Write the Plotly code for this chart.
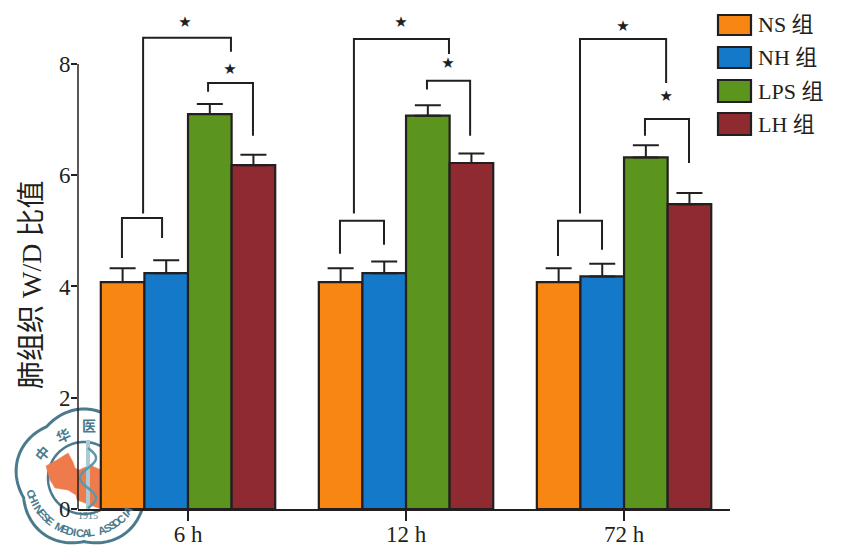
import numpy as np
import plotly.graph_objects as go

W, H = 841, 559
ML, MR, MT, MB = 78, 111, 0, 50
INK = "#231f20"
SERIF = "Liberation Serif, Noto Sans CJK SC, serif"

times = ["6 h", "12 h", "72 h"]
groups = ["NS组", "NH组", "LPS组", "LH组"]
legend_labels = ["NS 组", "NH 组", "LPS 组", "LH 组"]
colors = ["#f78613", "#1479c9", "#5b951e", "#8e2a30"]

ns_values = [4.08, 4.08, 4.08]
nh_values = [4.24, 4.24, 4.18]
lps_values = [7.10, 7.07, 6.32]
lh_values = [6.18, 6.22, 5.48]

ns_err = [0.25, 0.25, 0.25]
nh_err = [0.23, 0.21, 0.23]
lps_err = [0.18, 0.19, 0.22]
lh_err = [0.19, 0.17, 0.20]

y_ticks = [0, 2, 4, 6, 8]
y_top = 9.15

# significance brackets: left x, right x, left foot, top, right foot (x offset from group, y in axis units)
brackets_6h = [(-0.206, 0.197, 5.31, 8.47, 8.22), (-0.303, -0.119, 4.51, 5.23, 4.87), (0.092, 0.298, 7.50, 7.66, 6.71)]
brackets_12h = [(-0.239, 0.197, 5.31, 8.45, 8.18), (-0.303, -0.101, 4.59, 5.18, 4.75), (0.096, 0.294, 7.54, 7.70, 6.71)]
brackets_72h = [(-0.202, 0.193, 5.31, 8.45, 7.66), (-0.303, -0.101, 4.55, 5.18, 4.66), (0.096, 0.298, 6.71, 7.01, 6.22)]
star_x = [-0.014, 0.193, -0.023, 0.193, -0.005, 0.193]
star_group = [0, 0, 1, 1, 2, 2]
star_y = [8.73, 7.88, 8.73, 7.99, 8.66, 7.41]

x_pos = list(range(len(times)))
values = [ns_values, nh_values, lps_values, lh_values]
errors = [ns_err, nh_err, lps_err, lh_err]

fig = go.Figure()
for name, v, e, c in zip(groups, values, errors, colors):
    fig.add_trace(go.Bar(
        x=x_pos, y=v, name=name, showlegend=False,
        marker=dict(color=c, line=dict(color=INK, width=2.2)),
        error_y=dict(type="data", array=e, arrayminus=[0] * len(e), symmetric=False,
                     color=INK, thickness=2, width=13),
    ))

for g, bracket_set in enumerate([brackets_6h, brackets_12h, brackets_72h]):
    for lx, rx, lf, top, rf in bracket_set:
        fig.add_trace(go.Scatter(
            x=[g + lx, g + lx, g + rx, g + rx], y=[lf, top, top, rf], mode="lines",
            line=dict(color=INK, width=2), showlegend=False, hoverinfo="skip",
        ))

fig.add_trace(go.Scatter(
    x=[g + s for g, s in zip(star_group, star_x)], y=star_y, mode="text", text=["★"] * len(star_x),
    textfont=dict(family="DejaVu Sans", size=15, color=INK),
    showlegend=False, hoverinfo="skip",
))

PW = W - ML - MR
PH = H - MT - MB
def px(x):
    return (x - ML) / PW
def py(y):
    return (H - MB - y) / PH

shapes = []
annotations = []

def note(text, x, y, size, family=SERIF, color=INK, angle=0, xanchor="center"):
    annotations.append(dict(text=text, x=px(x), y=py(y), xref="paper", yref="paper", showarrow=False,
                            xanchor=xanchor, yanchor="middle", textangle=angle,
                            font=dict(family=family, size=size, color=color)))

# emblem (drawn under the bars)
LOGO = "#4a7a8c"
cx, cy, R = 84, 478, 69
def closed_path(pts):
    return "M" + "L".join(f"{px(a):.4f},{py(b):.4f}" for a, b in pts) + "Z"
def open_path(pts):
    return "M" + "L".join(f"{px(a):.4f},{py(b):.4f}" for a, b in pts)
th = np.linspace(0, 2 * np.pi, 181)
def blossom(rad, depth):
    r = rad * (1 - depth + depth * np.abs(np.cos(2.5 * th)))
    return list(zip(cx + r * np.sin(th), cy - r * np.cos(th)))
shapes.append(dict(type="path", xref="paper", yref="paper", layer="below", path=closed_path(blossom(R, 0.08)),
                   line=dict(color=LOGO, width=3), fillcolor="white"))
ring = list(zip(cx + 36 * np.sin(th), cy - 36 * np.cos(th)))
shapes.append(dict(type="path", xref="paper", yref="paper", layer="below", path=closed_path(ring),
                   line=dict(color=LOGO, width=2.5), fillcolor="white"))
china = [(46, 466), (57, 460), (68, 453), (73, 462), (75, 468), (79, 470), (90, 465), (101, 470),
         (101, 509), (77, 500), (76, 495), (68, 490), (55, 488), (50, 480)]
shapes.append(dict(type="path", xref="paper", yref="paper", layer="below", path=closed_path(china),
                   line=dict(color="#ef7b4d", width=0.5), fillcolor="#ef7b4d"))
shapes.append(dict(type="line", xref="paper", yref="paper", layer="below",
                   x0=px(88), x1=px(88), y0=py(440), y1=py(510), line=dict(color="#a9cbd6", width=4)))
snake_y = np.linspace(448, 508, 61)
snake_x = 88 + 8 * np.sin((snake_y - 448) / 60 * 3 * np.pi)
shapes.append(dict(type="path", xref="paper", yref="paper", layer="below",
                   path=open_path(list(zip(snake_x, snake_y))), line=dict(color="#5f97a8", width=2.5)))

for ch, (ax, ay, ang) in zip("中华医", [(42, 453, -50), (63, 435, -25), (89, 425, 0)]):
    note(f"<b>{ch}</b>", ax, ay, 14, family="Noto Sans CJK SC", color=LOGO, angle=ang)
arc_text = "CHINESE MEDICAL ASSOCIA"
for i, ch in enumerate(arc_text):
    if ch == " ":
        continue
    phi = -73 + i * 127 / (len(arc_text) - 1)
    rad = np.radians(phi)
    note(f"<b>{ch}</b>", cx + 55 * np.sin(rad), cy + 55 * np.cos(rad), 11,
         family="Liberation Sans", color=LOGO, angle=-phi)
note("1915", 88, 515, 10, family="Liberation Serif", color=LOGO)

# y axis line stops at the top tick
shapes.append(dict(type="line", xref="paper", yref="y", x0=0, x1=0, y0=y_ticks[0], y1=y_ticks[-1],
                   line=dict(color=INK, width=1.5)))

# y axis title
note("肺组织 W/D 比值", 31, 285, 28, angle=-90)

# key
swatch_tops = [15, 47, 80, 113]
swatch_bottoms = [35, 68, 102, 135]
for lab, c, t, b in zip(legend_labels, colors, swatch_tops, swatch_bottoms):
    shapes.append(dict(type="rect", xref="paper", yref="paper", x0=px(718), x1=px(751), y0=py(b), y1=py(t),
                       fillcolor=c, line=dict(color=INK, width=2.2)))
    note(lab, 756, (t + b) / 2, 22, xanchor="left")

fig.update_layout(
    width=W, height=H, margin=dict(l=ML, r=MR, t=MT, b=MB),
    paper_bgcolor="white", plot_bgcolor="rgba(0,0,0,0)",
    barmode="group", bargap=0.2, bargroupgap=0, showlegend=False,
    font=dict(family=SERIF, color=INK),
    shapes=shapes, annotations=annotations,
    xaxis=dict(range=[-0.5046, 2.486], tickvals=x_pos, ticktext=times, ticks="outside", ticklen=10, tickwidth=1.5,
               tickcolor=INK, showgrid=False, zeroline=False, showline=True, linecolor=INK, linewidth=2,
               ticklabelstandoff=-7, tickfont=dict(family=SERIF, size=23, color=INK)),
    yaxis=dict(range=[0, y_top], tickvals=y_ticks, ticks="outside", ticklen=6, tickwidth=1.5, tickcolor=INK,
               showgrid=False, zeroline=False, showline=False, ticklabelstandoff=-4,
               tickfont=dict(family=SERIF, size=23, color=INK)),
)

fig.write_html("out.html", config=dict(displayModeBar=False),
               post_script="document.body.style.margin='0';")
